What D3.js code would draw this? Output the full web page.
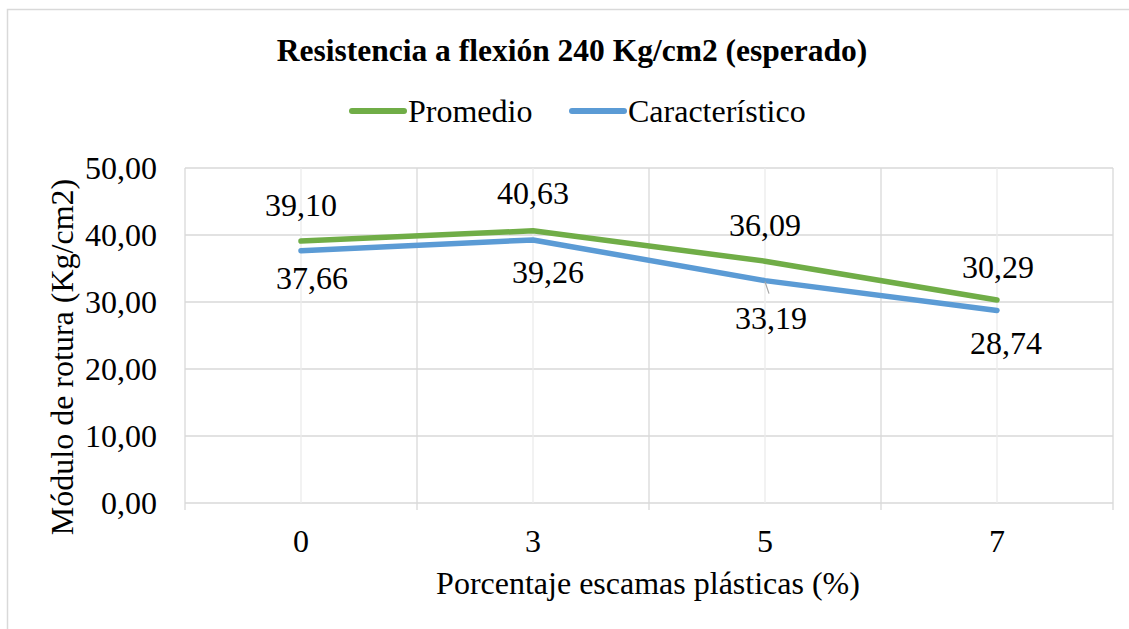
<!DOCTYPE html>
<html><head><meta charset="utf-8">
<script src="https://cdn.jsdelivr.net/npm/d3@7"></script>
<style>html,body{margin:0;padding:0;background:#fff;}svg{display:block;}</style>
</head><body>
<svg id="c" width="1129" height="629"></svg>
<script>
const categories = ["0", "3", "5", "7"];
const promedio = [39.10, 40.63, 36.09, 30.29];
const caracteristico = [37.66, 39.26, 33.19, 28.74];
const yTicks = [0, 10, 20, 30, 40, 50];
const seriesNames = ["Promedio", "Característico"];
const titleText = "Resistencia a flexión 240 Kg/cm2 (esperado)";
const xTitle = "Porcentaje escamas plásticas (%)";
const yTitle = "Módulo de rotura (Kg/cm2)";

const svg = d3.select("#c");
const FONT = '"Liberation Serif", "Times New Roman", serif';
const FS = "32px";
const GREEN = "#70AD47", BLUE = "#5B9BD5", GRID = "#D9D9D9";

// chart border
svg.append("rect").attr("x", 7.5).attr("y", 9.5).attr("width", 1140).attr("height", 640)
  .attr("fill", "#fff").attr("stroke", "#D9D9D9").attr("stroke-width", 1.5);

const L = 185, R = 1113, T = 168, B = 503;
const x = d3.scaleBand().domain(categories).range([L, R]).padding(0);
const y = d3.scaleLinear().domain([0, 50]).range([B, T]);
const fmt = v => d3.format(".2f")(v).replace(".", ",");

// horizontal gridlines
svg.append("g").selectAll("line").data(yTicks).join("line")
  .attr("x1", L).attr("x2", R).attr("y1", d => y(d)).attr("y2", d => y(d))
  .attr("stroke", GRID).attr("stroke-width", 1.3);
// vertical gridlines at band edges + centers
const edges = categories.map(c => x(c)).concat([R]);
const centers = categories.map(c => x(c) + x.bandwidth() / 2);
svg.append("g").selectAll("line").data(edges).join("line")
  .attr("x1", d => d).attr("x2", d => d).attr("y1", T).attr("y2", B + 7)
  .attr("stroke", GRID).attr("stroke-width", 1.3);
svg.append("g").selectAll("line").data(centers).join("line")
  .attr("x1", d => d).attr("x2", d => d).attr("y1", T).attr("y2", B)
  .attr("stroke", "#EBEBEB").attr("stroke-width", 1.3);

function txt(sel) {
  return sel.style("font-family", FONT).style("font-size", FS).attr("fill", "#000");
}

// y tick labels
txt(svg.append("g").selectAll("text").data(yTicks).join("text")
  .attr("x", 157).attr("y", d => y(d)).attr("dy", "0.35em")
  .attr("text-anchor", "end"))
  .text(d => fmt(d));
// x tick labels
txt(svg.append("g").selectAll("text").data(categories).join("text")
  .attr("x", d => x(d) + x.bandwidth() / 2).attr("y", 541).attr("dy", "0.35em")
  .attr("text-anchor", "middle"))
  .text(d => d);

// axis titles
txt(svg.append("text").attr("x", 648).attr("y", 583).attr("dy", "0.35em")
  .attr("text-anchor", "middle")).text(xTitle);
txt(svg.append("text").attr("transform", "translate(62,357) rotate(-90)").attr("dy", "0.35em")
  .attr("text-anchor", "middle")).text(yTitle);

// title
txt(svg.append("text").attr("x", 572).attr("y", 50).attr("dy", "0.35em")
  .attr("text-anchor", "middle"))
  .style("font-weight", "bold").style("font-size", "31.5px").text(titleText);

// legend
const legend = [{name: seriesNames[0], color: GREEN, x: 350}, {name: seriesNames[1], color: BLUE, x: 570}];
const lg = svg.append("g").selectAll("g").data(legend).join("g");
lg.append("line").attr("x1", d => d.x + 2).attr("x2", d => d.x + 54).attr("y1", 111).attr("y2", 111)
  .attr("stroke", d => d.color).attr("stroke-width", 6).attr("stroke-linecap", "round");
txt(lg.append("text").attr("x", d => d.x + 58).attr("y", 111).attr("dy", "0.35em"))
  .text(d => d.name);

// lines
const line = d3.line().x((d, i) => x(categories[i]) + x.bandwidth() / 2).y(d => y(d));
[[caracteristico, BLUE], [promedio, GREEN]].forEach(([vals, col]) => {
  svg.append("path").datum(vals).attr("d", line).attr("fill", "none")
    .attr("stroke", col).attr("stroke-width", 5.5).attr("stroke-linecap", "round").attr("stroke-linejoin", "round");
});

// data labels
const pOff = [[0, -36], [0, -38], [0, -36], [1, -33]];
const cOff = [[11, 27], [15, 32], [6, 37], [9, 32]];
function labels(vals, offs) {
  txt(svg.append("g").selectAll("text").data(vals).join("text")
    .attr("x", (d, i) => x(categories[i]) + x.bandwidth() / 2 + offs[i][0])
    .attr("y", (d, i) => y(d) + offs[i][1]).attr("dy", "0.35em")
    .attr("text-anchor", "middle"))
    .text(d => fmt(d));
}
labels(promedio, pOff);
labels(caracteristico, cOff);
// leader line for label at category "5"
{
  const i = 2;
  const cx = x(categories[i]) + x.bandwidth() / 2;
  svg.append("line").attr("x1", cx).attr("y1", y(caracteristico[i]) + 1)
    .attr("x2", cx + 4).attr("y2", y(caracteristico[i]) + 13)
    .attr("stroke", "#A6A6A6").attr("stroke-width", 1.2);
}
</script>
</body></html>
